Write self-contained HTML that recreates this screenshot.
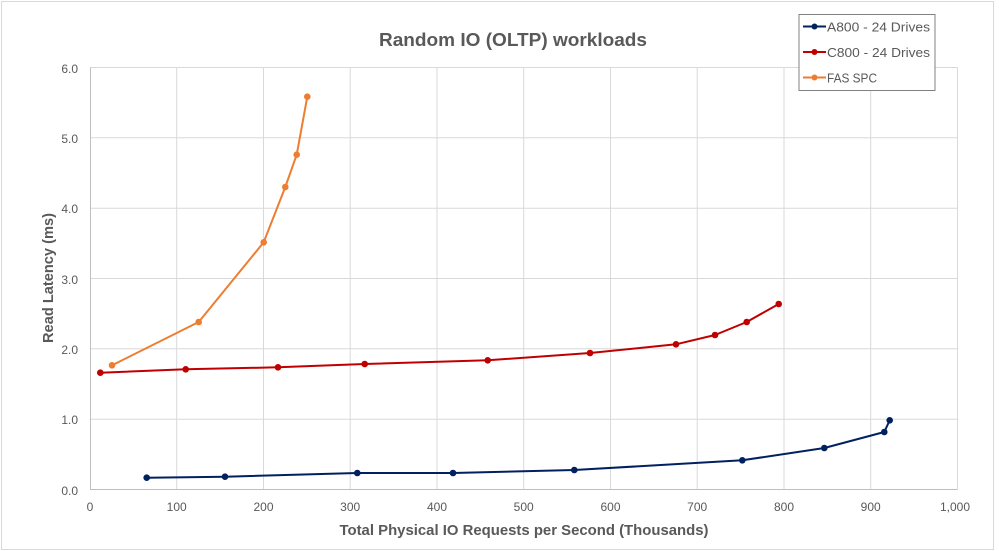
<!DOCTYPE html>
<html><head><meta charset="utf-8"><style>
html,body{margin:0;padding:0;background:#fff;}
svg{display:block;}
text{font-family:"Liberation Sans",sans-serif;fill:#595959;}
</style></head><body>
<svg width="999" height="551" viewBox="0 0 999 551" xmlns="http://www.w3.org/2000/svg">
<rect x="0" y="0" width="999" height="551" fill="#fff"/>
<rect x="1.5" y="1.5" width="992" height="548" fill="none" stroke="#d9d9d9" stroke-width="1"/>
<text x="513" y="46" font-size="18" font-weight="bold" text-anchor="middle" textLength="268" lengthAdjust="spacingAndGlyphs">Random IO (OLTP) workloads</text>
<g stroke="#d9d9d9" stroke-width="1">
<line x1="90" y1="67.5" x2="957.5" y2="67.5"/>
<line x1="90" y1="137.8" x2="957.5" y2="137.8"/>
<line x1="90" y1="208.2" x2="957.5" y2="208.2"/>
<line x1="90" y1="278.5" x2="957.5" y2="278.5"/>
<line x1="90" y1="348.8" x2="957.5" y2="348.8"/>
<line x1="90" y1="419.2" x2="957.5" y2="419.2"/>
<line x1="176.7" y1="67.5" x2="176.7" y2="489.5"/>
<line x1="263.5" y1="67.5" x2="263.5" y2="489.5"/>
<line x1="350.2" y1="67.5" x2="350.2" y2="489.5"/>
<line x1="437" y1="67.5" x2="437" y2="489.5"/>
<line x1="523.7" y1="67.5" x2="523.7" y2="489.5"/>
<line x1="610.5" y1="67.5" x2="610.5" y2="489.5"/>
<line x1="697.2" y1="67.5" x2="697.2" y2="489.5"/>
<line x1="784" y1="67.5" x2="784" y2="489.5"/>
<line x1="870.7" y1="67.5" x2="870.7" y2="489.5"/>
<line x1="957.5" y1="67.5" x2="957.5" y2="489.5"/>
</g>
<g stroke="#bfbfbf" stroke-width="1">
<line x1="90" y1="489.5" x2="957.5" y2="489.5"/>
<line x1="90.5" y1="67.5" x2="90.5" y2="489.5"/>
</g>
<g font-size="12" text-anchor="end">
<text x="78" y="73">6.0</text>
<text x="78" y="143">5.0</text>
<text x="78" y="213">4.0</text>
<text x="78" y="284">3.0</text>
<text x="78" y="354">2.0</text>
<text x="78" y="424">1.0</text>
<text x="78" y="495">0.0</text>
</g>
<g font-size="12" text-anchor="middle">
<text x="90" y="511">0</text>
<text x="176.7" y="511">100</text>
<text x="263.5" y="511">200</text>
<text x="350.2" y="511">300</text>
<text x="437" y="511">400</text>
<text x="523.7" y="511">500</text>
<text x="610.5" y="511">600</text>
<text x="697.2" y="511">700</text>
<text x="784" y="511">800</text>
<text x="870.7" y="511">900</text>
<text x="955" y="511">1,000</text>
</g>
<text x="524" y="535" font-size="15" font-weight="bold" text-anchor="middle" textLength="369" lengthAdjust="spacingAndGlyphs">Total Physical IO Requests per Second (Thousands)</text>
<text transform="translate(53,278) rotate(-90)" font-size="15" font-weight="bold" text-anchor="middle" textLength="130" lengthAdjust="spacingAndGlyphs">Read Latency (ms)</text>
<!-- Orange -->
<polyline fill="none" stroke="#ed7d31" stroke-width="2" stroke-linejoin="round" points="112,365.3 198.7,322 263.7,242.3 285.3,187 296.7,154.7 307.3,96.7"/>
<g fill="#ed7d31">
<circle cx="112" cy="365.3" r="3.3"/><circle cx="198.7" cy="322" r="3.3"/><circle cx="263.7" cy="242.3" r="3.3"/><circle cx="285.3" cy="187" r="3.3"/><circle cx="296.7" cy="154.7" r="3.3"/><circle cx="307.3" cy="96.7" r="3.3"/>
</g>
<!-- Red -->
<polyline fill="none" stroke="#c00000" stroke-width="2" stroke-linejoin="round" points="100.3,372.7 185.7,369.3 278,367.3 364.7,364 487.7,360.3 590,353 676,344.3 715,335 746.7,322 778.7,304"/>
<g fill="#c00000">
<circle cx="100.3" cy="372.7" r="3.3"/><circle cx="185.7" cy="369.3" r="3.3"/><circle cx="278" cy="367.3" r="3.3"/><circle cx="364.7" cy="364" r="3.3"/><circle cx="487.7" cy="360.3" r="3.3"/><circle cx="590" cy="353" r="3.3"/><circle cx="676" cy="344.3" r="3.3"/><circle cx="715" cy="335" r="3.3"/><circle cx="746.7" cy="322" r="3.3"/><circle cx="778.7" cy="304" r="3.3"/>
</g>
<!-- Blue -->
<polyline fill="none" stroke="#002060" stroke-width="2" stroke-linejoin="round" points="146.7,477.7 225,476.7 357.3,473 453,473 574.3,470 742.3,460.3 824.3,448 884.3,432 889.7,420.3"/>
<g fill="#002060">
<circle cx="146.7" cy="477.7" r="3.3"/><circle cx="225" cy="476.7" r="3.3"/><circle cx="357.3" cy="473" r="3.3"/><circle cx="453" cy="473" r="3.3"/><circle cx="574.3" cy="470" r="3.3"/><circle cx="742.3" cy="460.3" r="3.3"/><circle cx="824.3" cy="448" r="3.3"/><circle cx="884.3" cy="432" r="3.3"/><circle cx="889.7" cy="420.3" r="3.3"/>
</g>
<!-- Legend -->
<rect x="799" y="14.5" width="136" height="76" fill="#fff" stroke="#808080" stroke-width="1"/>
<line x1="803" y1="26.5" x2="826" y2="26.5" stroke="#002060" stroke-width="2"/>
<circle cx="814.5" cy="26.5" r="3" fill="#002060"/>
<line x1="803" y1="52" x2="826" y2="52" stroke="#c00000" stroke-width="2"/>
<circle cx="814.5" cy="52" r="3" fill="#c00000"/>
<line x1="803" y1="77.5" x2="826" y2="77.5" stroke="#ed7d31" stroke-width="2"/>
<circle cx="814.5" cy="77.5" r="3" fill="#ed7d31"/>
<g font-size="13">
<text x="827" y="31.5" textLength="103" lengthAdjust="spacingAndGlyphs">A800 - 24 Drives</text>
<text x="827" y="57" textLength="103" lengthAdjust="spacingAndGlyphs">C800 - 24 Drives</text>
<text x="827" y="82.5" textLength="50" lengthAdjust="spacingAndGlyphs">FAS SPC</text>
</g>
</svg>
</body></html>
